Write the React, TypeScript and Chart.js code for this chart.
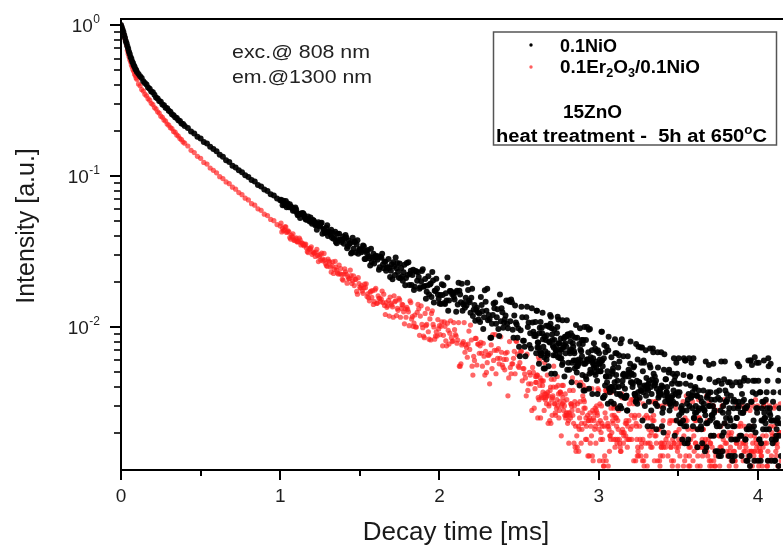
import React, { useEffect, useRef } from "react";
import { Chart, registerables } from "chart.js";

Chart.register(...registerables);

// ---------- time base (ms) ----------
const tStart = [0, 0.005, 0.01, 0.015, 0.02, 0.025, 0.03, 0.035, 0.04, 0.045, 0.05, 0.055, 0.06, 0.065, 0.07, 0.075, 0.08, 0.085, 0.09, 0.095, 0.1];
const tEarly = [
  0.11, 0.12, 0.13, 0.14, 0.15, 0.16, 0.17, 0.18, 0.19, 0.2, 0.21, 0.22, 0.23, 0.24, 0.25, 0.26, 0.27, 0.28, 0.29, 0.3,
  0.31, 0.32, 0.33, 0.34, 0.35, 0.36, 0.37, 0.38, 0.39, 0.4, 0.42, 0.44, 0.46, 0.48, 0.5, 0.52, 0.54, 0.56, 0.58, 0.6,
  0.62, 0.64, 0.66, 0.68, 0.7, 0.72, 0.74, 0.76, 0.78, 0.8, 0.82, 0.84, 0.86, 0.88, 0.9, 0.92, 0.94, 0.96, 0.98, 1.0,
];
const tMid = [
  1.01, 1.02, 1.03, 1.04, 1.05, 1.06, 1.07, 1.08, 1.09, 1.1, 1.11, 1.12, 1.13, 1.14, 1.15, 1.16, 1.17, 1.18, 1.19, 1.2,
  1.21, 1.22, 1.23, 1.24, 1.25, 1.26, 1.27, 1.28, 1.29, 1.3, 1.31, 1.32, 1.33, 1.34, 1.35, 1.36, 1.37, 1.38, 1.39, 1.4,
  1.41, 1.42, 1.43, 1.44, 1.45, 1.46, 1.47, 1.48, 1.49, 1.5, 1.51, 1.52, 1.53, 1.54, 1.55, 1.56, 1.57, 1.58, 1.59, 1.6,
  1.61, 1.62, 1.63, 1.64, 1.65, 1.66, 1.67, 1.68, 1.69, 1.7, 1.71, 1.72, 1.73, 1.74, 1.75, 1.76, 1.77, 1.78, 1.79, 1.8,
  1.81, 1.82, 1.83, 1.84, 1.85, 1.86, 1.87, 1.88, 1.89, 1.9, 1.91, 1.92, 1.93, 1.94, 1.95, 1.96, 1.97, 1.98, 1.99, 2.0,
];
const tMidB = [
  1.005, 1.015, 1.025, 1.035, 1.045, 1.055, 1.065, 1.075, 1.085, 1.095, 1.105, 1.115, 1.125, 1.135, 1.145, 1.155, 1.165, 1.175, 1.185, 1.195,
  1.205, 1.215, 1.225, 1.235, 1.245, 1.255, 1.265, 1.275, 1.285, 1.295, 1.305, 1.315, 1.325, 1.335, 1.345, 1.355, 1.365, 1.375, 1.385, 1.395,
  1.405, 1.415, 1.425, 1.435, 1.445, 1.455, 1.465, 1.475, 1.485, 1.495, 1.505, 1.515, 1.525, 1.535, 1.545, 1.555, 1.565, 1.575, 1.585, 1.595,
  1.605, 1.615, 1.625, 1.635, 1.645, 1.655, 1.665, 1.675, 1.685, 1.695, 1.705, 1.715, 1.725, 1.735, 1.745, 1.755, 1.765, 1.775, 1.785, 1.795,
  1.805, 1.815, 1.825, 1.835, 1.845, 1.855, 1.865, 1.875, 1.885, 1.895, 1.905, 1.915, 1.925, 1.935, 1.945, 1.955, 1.965, 1.975, 1.985, 1.995,
];
const tLate = [
  2.01, 2.02, 2.03, 2.04, 2.05, 2.06, 2.07, 2.08, 2.09, 2.1, 2.11, 2.12, 2.13, 2.14, 2.15, 2.16, 2.17, 2.18, 2.19, 2.2,
  2.21, 2.22, 2.23, 2.24, 2.25, 2.26, 2.27, 2.28, 2.29, 2.3, 2.31, 2.32, 2.33, 2.34, 2.35, 2.36, 2.37, 2.38, 2.39, 2.4,
  2.41, 2.42, 2.43, 2.44, 2.45, 2.46, 2.47, 2.48, 2.49, 2.5, 2.51, 2.52, 2.53, 2.54, 2.55, 2.56, 2.57, 2.58, 2.59, 2.6,
];
const tLateB = [
  2.005, 2.015, 2.025, 2.035, 2.045, 2.055, 2.065, 2.075, 2.085, 2.095, 2.105, 2.115, 2.125, 2.135, 2.145, 2.155, 2.165, 2.175, 2.185, 2.195,
  2.205, 2.215, 2.225, 2.235, 2.245, 2.255, 2.265, 2.275, 2.285, 2.295, 2.305, 2.315, 2.325, 2.335, 2.345, 2.355, 2.365, 2.375, 2.385, 2.395,
  2.405, 2.415, 2.425, 2.435, 2.445, 2.455, 2.465, 2.475, 2.485, 2.495, 2.505, 2.515, 2.525, 2.535, 2.545, 2.555, 2.565, 2.575, 2.585, 2.595,
];
const tTail = [
  2.605, 2.61, 2.615, 2.62, 2.625, 2.63, 2.635, 2.64, 2.645, 2.65, 2.655, 2.66, 2.665, 2.67, 2.675, 2.68, 2.685, 2.69, 2.695, 2.7,
  2.705, 2.71, 2.715, 2.72, 2.725, 2.73, 2.735, 2.74, 2.745, 2.75, 2.755, 2.76, 2.765, 2.77, 2.775, 2.78, 2.785, 2.79, 2.795, 2.8,
  2.805, 2.81, 2.815, 2.82, 2.825, 2.83, 2.835, 2.84, 2.845, 2.85, 2.855, 2.86, 2.865, 2.87, 2.875, 2.88, 2.885, 2.89, 2.895, 2.9,
  2.905, 2.91, 2.915, 2.92, 2.925, 2.93, 2.935, 2.94, 2.945, 2.95, 2.955, 2.96, 2.965, 2.97, 2.975, 2.98, 2.985, 2.99, 2.995, 3.0,
  3.005, 3.01, 3.015, 3.02, 3.025, 3.03, 3.035, 3.04, 3.045, 3.05, 3.055, 3.06, 3.065, 3.07, 3.075, 3.08, 3.085, 3.09, 3.095, 3.1,
  3.105, 3.11, 3.115, 3.12, 3.125, 3.13, 3.135, 3.14, 3.145, 3.15, 3.155, 3.16, 3.165, 3.17, 3.175, 3.18, 3.185, 3.19, 3.195, 3.2,
  3.205, 3.21, 3.215, 3.22, 3.225, 3.23, 3.235, 3.24, 3.245, 3.25, 3.255, 3.26, 3.265, 3.27, 3.275, 3.28, 3.285, 3.29, 3.295, 3.3,
  3.305, 3.31, 3.315, 3.32, 3.325, 3.33, 3.335, 3.34, 3.345, 3.35, 3.355, 3.36, 3.365, 3.37, 3.375, 3.38, 3.385, 3.39, 3.395, 3.4,
  3.405, 3.41, 3.415, 3.42, 3.425, 3.43, 3.435, 3.44, 3.445, 3.45, 3.455, 3.46, 3.465, 3.47, 3.475, 3.48, 3.485, 3.49, 3.495, 3.5,
  3.505, 3.51, 3.515, 3.52, 3.525, 3.53, 3.535, 3.54, 3.545, 3.55, 3.555, 3.56, 3.565, 3.57, 3.575, 3.58, 3.585, 3.59, 3.595, 3.6,
  3.605, 3.61, 3.615, 3.62, 3.625, 3.63, 3.635, 3.64, 3.645, 3.65, 3.655, 3.66, 3.665, 3.67, 3.675, 3.68, 3.685, 3.69, 3.695, 3.7,
  3.705, 3.71, 3.715, 3.72, 3.725, 3.73, 3.735, 3.74, 3.745, 3.75, 3.755, 3.76, 3.765, 3.77, 3.775, 3.78, 3.785, 3.79, 3.795, 3.8,
  3.805, 3.81, 3.815, 3.82, 3.825, 3.83, 3.835, 3.84, 3.845, 3.85, 3.855, 3.86, 3.865, 3.87, 3.875, 3.88, 3.885, 3.89, 3.895, 3.9,
  3.905, 3.91, 3.915, 3.92, 3.925, 3.93, 3.935, 3.94, 3.945, 3.95, 3.955, 3.96, 3.965, 3.97, 3.975, 3.98, 3.985, 3.99, 3.995, 4.0,
  4.005, 4.01, 4.015, 4.02, 4.025, 4.03, 4.035, 4.04, 4.045, 4.05, 4.055, 4.06, 4.065, 4.07, 4.075, 4.08, 4.085, 4.09, 4.095, 4.1,
  4.105, 4.11, 4.115, 4.12, 4.125, 4.13, 4.135, 4.14, 4.145,
];
const tTailB = [
  2.6025, 2.6075, 2.6125, 2.6175, 2.6225, 2.6275, 2.6325, 2.6375, 2.6425, 2.6475, 2.6525, 2.6575, 2.6625, 2.6675, 2.6725, 2.6775, 2.6825, 2.6875, 2.6925, 2.6975,
  2.7025, 2.7075, 2.7125, 2.7175, 2.7225, 2.7275, 2.7325, 2.7375, 2.7425, 2.7475, 2.7525, 2.7575, 2.7625, 2.7675, 2.7725, 2.7775, 2.7825, 2.7875, 2.7925, 2.7975,
  2.8025, 2.8075, 2.8125, 2.8175, 2.8225, 2.8275, 2.8325, 2.8375, 2.8425, 2.8475, 2.8525, 2.8575, 2.8625, 2.8675, 2.8725, 2.8775, 2.8825, 2.8875, 2.8925, 2.8975,
  2.9025, 2.9075, 2.9125, 2.9175, 2.9225, 2.9275, 2.9325, 2.9375, 2.9425, 2.9475, 2.9525, 2.9575, 2.9625, 2.9675, 2.9725, 2.9775, 2.9825, 2.9875, 2.9925, 2.9975,
  3.0025, 3.0075, 3.0125, 3.0175, 3.0225, 3.0275, 3.0325, 3.0375, 3.0425, 3.0475, 3.0525, 3.0575, 3.0625, 3.0675, 3.0725, 3.0775, 3.0825, 3.0875, 3.0925, 3.0975,
  3.1025, 3.1075, 3.1125, 3.1175, 3.1225, 3.1275, 3.1325, 3.1375, 3.1425, 3.1475, 3.1525, 3.1575, 3.1625, 3.1675, 3.1725, 3.1775, 3.1825, 3.1875, 3.1925, 3.1975,
  3.2025, 3.2075, 3.2125, 3.2175, 3.2225, 3.2275, 3.2325, 3.2375, 3.2425, 3.2475, 3.2525, 3.2575, 3.2625, 3.2675, 3.2725, 3.2775, 3.2825, 3.2875, 3.2925, 3.2975,
  3.3025, 3.3075, 3.3125, 3.3175, 3.3225, 3.3275, 3.3325, 3.3375, 3.3425, 3.3475, 3.3525, 3.3575, 3.3625, 3.3675, 3.3725, 3.3775, 3.3825, 3.3875, 3.3925, 3.3975,
  3.4025, 3.4075, 3.4125, 3.4175, 3.4225, 3.4275, 3.4325, 3.4375, 3.4425, 3.4475, 3.4525, 3.4575, 3.4625, 3.4675, 3.4725, 3.4775, 3.4825, 3.4875, 3.4925, 3.4975,
  3.5025, 3.5075, 3.5125, 3.5175, 3.5225, 3.5275, 3.5325, 3.5375, 3.5425, 3.5475, 3.5525, 3.5575, 3.5625, 3.5675, 3.5725, 3.5775, 3.5825, 3.5875, 3.5925, 3.5975,
  3.6025, 3.6075, 3.6125, 3.6175, 3.6225, 3.6275, 3.6325, 3.6375, 3.6425, 3.6475, 3.6525, 3.6575, 3.6625, 3.6675, 3.6725, 3.6775, 3.6825, 3.6875, 3.6925, 3.6975,
  3.7025, 3.7075, 3.7125, 3.7175, 3.7225, 3.7275, 3.7325, 3.7375, 3.7425, 3.7475, 3.7525, 3.7575, 3.7625, 3.7675, 3.7725, 3.7775, 3.7825, 3.7875, 3.7925, 3.7975,
  3.8025, 3.8075, 3.8125, 3.8175, 3.8225, 3.8275, 3.8325, 3.8375, 3.8425, 3.8475, 3.8525, 3.8575, 3.8625, 3.8675, 3.8725, 3.8775, 3.8825, 3.8875, 3.8925, 3.8975,
  3.9025, 3.9075, 3.9125, 3.9175, 3.9225, 3.9275, 3.9325, 3.9375, 3.9425, 3.9475, 3.9525, 3.9575, 3.9625, 3.9675, 3.9725, 3.9775, 3.9825, 3.9875, 3.9925, 3.9975,
  4.0025, 4.0075, 4.0125, 4.0175, 4.0225, 4.0275, 4.0325, 4.0375, 4.0425, 4.0475, 4.0525, 4.0575, 4.0625, 4.0675, 4.0725, 4.0775, 4.0825, 4.0875, 4.0925, 4.0975,
  4.1025, 4.1075, 4.1125, 4.1175, 4.1225, 4.1275, 4.1325, 4.1375, 4.1425,
];

// ---------- 0.1NiO (black) intensities ----------
const niStart = [1.0, 0.968, 0.931, 0.899, 0.858, 0.824, 0.783, 0.757, 0.722, 0.697, 0.665, 0.643, 0.615, 0.598, 0.573, 0.56, 0.541, 0.529, 0.511, 0.503, 0.488];
const niEarly = [
  0.473, 0.457, 0.445, 0.424, 0.413, 0.404, 0.386, 0.379, 0.363, 0.358, 0.345, 0.331, 0.326, 0.314, 0.31, 0.298, 0.294, 0.283, 0.281, 0.27,
  0.266, 0.256, 0.253, 0.245, 0.242, 0.234, 0.231, 0.223, 0.221, 0.214, 0.208, 0.197, 0.191, 0.182, 0.177, 0.168, 0.164, 0.156, 0.151, 0.146,
  0.138, 0.134, 0.127, 0.124, 0.117, 0.114, 0.109, 0.106, 0.101, 0.0985, 0.094, 0.0918, 0.0872, 0.0851, 0.0814, 0.0796, 0.0758, 0.0743, 0.0709, 0.0692,
];
const niMid = [
  0.0684, 0.0686, 0.0647, 0.0621, 0.0637, 0.0649, 0.0624, 0.0588, 0.0589, 0.0601,
  0.055, 0.056, 0.0564, 0.0568, 0.0551, 0.0516, 0.0514, 0.0515, 0.053, 0.0483,
  0.0508, 0.0472, 0.0441, 0.0494, 0.0471, 0.049, 0.0445, 0.042, 0.0454, 0.0401,
  0.0426, 0.0441, 0.0421, 0.0392, 0.0366, 0.0414, 0.0414, 0.0377, 0.0377, 0.0356,
  0.0406, 0.0332, 0.0374, 0.036, 0.0311, 0.033, 0.0366, 0.0352, 0.0306, 0.0328,
  0.0313, 0.0346, 0.0282, 0.0318, 0.0324, 0.0285, 0.033, 0.0288, 0.0263, 0.0296,
  0.0279, 0.0239, 0.0292, 0.0305, 0.0245, 0.027, 0.0247, 0.0282, 0.0214, 0.026,
  0.0268, 0.0221, 0.0245, 0.0231, 0.0263, 0.0246, 0.0202, 0.0258, 0.0211, 0.0221,
  0.019, 0.0236, 0.0221, 0.0176, 0.0235, 0.0202, 0.0214, 0.0183, 0.0235, 0.0185,
  0.0208, 0.0171, 0.0217, 0.0191, 0.0158, 0.0203, 0.0174, 0.0209, 0.0164, 0.0143,
];
const niMidB = [
  0.0697, 0.064, 0.0642, 0.0684, 0.0659, 0.0622, 0.063, 0.0612, 0.0608, 0.0618,
  0.0571, 0.0556, 0.0526, 0.0559, 0.0564, 0.0529, 0.0515, 0.0539, 0.0499, 0.0497,
  0.0511, 0.0496, 0.0478, 0.0481, 0.0464, 0.0484, 0.0414, 0.0443, 0.0425, 0.0472,
  0.0428, 0.0412, 0.039, 0.0384, 0.0427, 0.0358, 0.0377, 0.0378, 0.0366, 0.0397,
  0.0386, 0.0392, 0.0343, 0.0356, 0.0307, 0.039, 0.0367, 0.0311, 0.0376, 0.0324,
  0.0324, 0.032, 0.0342, 0.0282, 0.0307, 0.0293, 0.0255, 0.0268, 0.0305, 0.0287,
  0.0289, 0.0294, 0.0249, 0.0287, 0.0259, 0.0271, 0.0236, 0.025, 0.0246, 0.0236,
  0.0207, 0.0252, 0.0289, 0.0265, 0.0212, 0.021, 0.0216, 0.023, 0.0189, 0.0265,
  0.0268, 0.0225, 0.019, 0.0239, 0.0185, 0.0233, 0.023, 0.0179, 0.0201, 0.0241,
  0.0187, 0.0154, 0.0188, 0.0164, 0.0194, 0.0231, 0.0145, 0.0173, 0.018, 0.0154,
];
const niLate = [
  0.0142, 0.0163, 0.0144, 0.0167, 0.0213, 0.015, 0.0173, 0.0165, 0.0158, 0.0169,
  0.0174, 0.0196, 0.0164, 0.0193, 0.0141, 0.0134, 0.0139, 0.0176, 0.0146, 0.0156,
  0.0118, 0.014, 0.013, 0.0125, 0.0123, 0.0158, 0.0127, 0.0116, 0.0147, 0.0179,
  0.012, 0.0085, 0.0105, 0.0143, 0.0145, 0.0116, 0.0097, 0.0164, 0.0133, 0.0099,
  0.0112, 0.015, 0.0098, 0.0147, 0.0152, 0.0096, 0.0119, 0.0107, 0.0085, 0.0074,
  0.0095, 0.0116, 0.0081, 0.0064, 0.0136, 0.0107, 0.0091, 0.0133, 0.0093, 0.0089,
];
const niLateB = [
  0.0163, 0.0192, 0.0189, 0.0142, 0.015, 0.0128, 0.0173, 0.0171, 0.0167, 0.0152,
  0.0126, 0.0141, 0.0174, 0.0146, 0.0128, 0.0144, 0.0156, 0.0196, 0.015, 0.0124,
  0.0179, 0.013, 0.011, 0.0134, 0.0112, 0.0108, 0.014, 0.0097, 0.0175, 0.0128,
  0.0111, 0.0113, 0.0085, 0.012, 0.0133, 0.0105, 0.0131, 0.0087, 0.0109, 0.0125,
  0.0107, 0.0119, 0.0105, 0.015, 0.0109, 0.0146, 0.0085, 0.0139, 0.0104, 0.0098,
  0.0064, 0.0136, 0.0081, 0.0074, 0.0116, 0.01, 0.0076, 0.0072, 0.0107, 0.0087,
];
const niTail = [
  0.0087, 0.0128, 0.0073, 0.0079, 0.0057, 0.0099, 0.0108, 0.0067, 0.0091, 0.0083,
  0.0053, 0.0086, 0.0069, 0.0102, 0.0088, 0.0067, 0.0055, 0.01, 0.012, 0.0117,
  0.0098, 0.0082, 0.0065, 0.0096, 0.0049, 0.007, 0.0075, 0.01, 0.0063, 0.0078,
  0.0067, 0.0071, 0.0062, 0.0056, 0.0058, 0.0084, 0.0047, 0.0078, 0.0086, 0.0111,
  0.0089, 0.0058, 0.0052, 0.0067, 0.0091, 0.0043, 0.0087, 0.0074, 0.0069, 0.0053,
  0.006, 0.0055, 0.0085, 0.0057, 0.0061, 0.0041, 0.0071, 0.0069, 0.0064, 0.0077,
  0.0038, 0.01, 0.0057, 0.0082, 0.0061, 0.0059, 0.0068, 0.0039, 0.0097, 0.0063,
  0.006, 0.0036, 0.0062, 0.0078, 0.005, 0.0048, 0.0054, 0.0044, 0.007, 0.0051,
  0.0057, 0.0051, 0.0059, 0.0093, 0.0055, 0.0034, 0.0076, 0.0041, 0.0047, 0.0074,
  0.0051, 0.007, 0.0039, 0.0037, 0.004, 0.0063, 0.0049, 0.0053, 0.0031, 0.0043,
  0.0067, 0.0048, 0.0036, 0.0029, 0.004, 0.0059, 0.003, 0.0035, 0.0083, 0.0044,
  0.0064, 0.0048, 0.0039, 0.0034, 0.0035, 0.0028, 0.0049, 0.0047, 0.005, 0.008,
  0.0049, 0.0043, 0.0042, 0.0048, 0.0036, 0.0035, 0.0077, 0.0044, 0.0061, 0.0074,
  0.0043, 0.0041, 0.0073, 0.0038, 0.0024, 0.0037, 0.0058, 0.003, 0.007, 0.0046,
  0.0039, 0.0038, 0.0032, 0.0056, 0.0054, 0.0028, 0.0022, 0.0072, 0.0049, 0.0041,
  0.0042, 0.0044, 0.0039, 0.0068, 0.0034, 0.0035, 0.0037, 0.0036, 0.0041, 0.0027,
  0.0029, 0.0052, 0.0035, 0.0045, 0.0037, 0.004, 0.0034, 0.005, 0.0028, 0.0032,
  0.003, 0.0042, 0.0049, 0.0038, 0.0044, 0.0047, 0.0031, 0.0024, 0.0037, 0.0035,
  0.0026, 0.0042, 0.0023, 0.0027, 0.0018, 0.0024, 0.0062, 0.0017, 0.006, 0.0022,
  0.0031, 0.0033, 0.0036, 0.003, 0.0047, 0.0034, 0.0035, 0.0037, 0.0062, 0.0025,
  0.0027, 0.003, 0.0035, 0.0016, 0.0028, 0.0029, 0.0046, 0.0034, 0.0021, 0.0017,
  0.0029, 0.0031, 0.0028, 0.0026, 0.0023, 0.0034, 0.0035, 0.003, 0.0045, 0.0024,
  0.0019, 0.0026, 0.0025, 0.0057, 0.0027, 0.0033, 0.0015, 0.0037, 0.0023, 0.0034,
  0.0014, 0.0022, 0.0028, 0.0059, 0.0019, 0.0027, 0.002, 0.0023, 0.0038, 0.0025,
  0.0036, 0.0022, 0.0027, 0.0029, 0.0043, 0.0035, 0.0014, 0.0013, 0.0032, 0.0033,
  0.0014, 0.0032, 0.0025, 0.0018, 0.0029, 0.003, 0.0043, 0.0041, 0.0019, 0.0036,
  0.0027, 0.0044, 0.0046, 0.0018, 0.0029, 0.0021, 0.0013, 0.006, 0.0022, 0.0012,
  0.006, 0.0032, 0.0021, 0.0044, 0.0022, 0.0063, 0.002, 0.0029, 0.0027, 0.0013,
  0.0058, 0.0018, 0.0037, 0.0017, 0.0029, 0.0024, 0.0032, 0.0027, 0.0025, 0.0033,
  0.0037, 0.0044, 0.0062, 0.0021, 0.0029, 0.0057, 0.0013, 0.0024, 0.0032, 0.0011,
  0.0013, 0.0018, 0.0019, 0.0024, 0.0025, 0.0012, 0.0029, 0.0023, 0.0014,
];
const niTailB = [
  0.0108, 0.0067, 0.0128, 0.0079, 0.0073, 0.0091, 0.0069, 0.0065, 0.0099, 0.0124,
  0.0074, 0.0063, 0.0053, 0.0082, 0.0061, 0.0065, 0.0102, 0.008, 0.0079, 0.0105,
  0.0049, 0.0089, 0.0075, 0.0073, 0.0082, 0.0065, 0.007, 0.0091, 0.0117, 0.0112,
  0.0078, 0.0062, 0.0084, 0.0071, 0.0111, 0.0073, 0.0076, 0.0086, 0.0067, 0.0074,
  0.0052, 0.0089, 0.0087, 0.0069, 0.008, 0.0071, 0.0058, 0.0078, 0.006, 0.0067,
  0.0085, 0.0103, 0.005, 0.0055, 0.0057, 0.0077, 0.0098, 0.006, 0.0082, 0.0048,
  0.0082, 0.0057, 0.0038, 0.0047, 0.0045, 0.01, 0.0061, 0.0096, 0.0049, 0.0052,
  0.005, 0.007, 0.0058, 0.0056, 0.0054, 0.0072, 0.0059, 0.0069, 0.0036, 0.0057,
  0.0067, 0.0061, 0.0051, 0.0093, 0.006, 0.0034, 0.0062, 0.0035, 0.0068, 0.0047,
  0.0043, 0.0031, 0.0086, 0.0047, 0.0039, 0.0032, 0.004, 0.0051, 0.0038, 0.0057,
  0.0083, 0.004, 0.0067, 0.0044, 0.0054, 0.0065, 0.0036, 0.0078, 0.0029, 0.0041,
  0.0048, 0.0049, 0.0034, 0.0047, 0.0035, 0.0028, 0.0064, 0.0052, 0.005, 0.0057,
  0.0043, 0.0049, 0.004, 0.0054, 0.0055, 0.0036, 0.0032, 0.0033, 0.0031, 0.0037,
  0.0043, 0.0034, 0.0038, 0.0058, 0.0073, 0.0051, 0.006, 0.0041, 0.004, 0.0035,
  0.0041, 0.0022, 0.0042, 0.0044, 0.0072, 0.004, 0.0036, 0.0045, 0.0068, 0.0043,
  0.0047, 0.0031, 0.0021, 0.003, 0.0054, 0.0037, 0.0036, 0.0039, 0.0068, 0.0022,
  0.004, 0.002, 0.0066, 0.0032, 0.0045, 0.0037, 0.0035, 0.0033, 0.0052, 0.0031,
  0.0033, 0.0034, 0.0035, 0.0032, 0.0062, 0.0019, 0.0036, 0.0058, 0.0049, 0.0042,
  0.0062, 0.0037, 0.0023, 0.0029, 0.003, 0.0028, 0.0048, 0.0022, 0.006, 0.0042,
  0.0028, 0.0017, 0.0018, 0.0062, 0.0047, 0.0041, 0.0058, 0.0029, 0.0022, 0.0025,
  0.0039, 0.004, 0.0027, 0.0035, 0.0021, 0.0038, 0.0046, 0.0024, 0.0022, 0.0032,
  0.0029, 0.0038, 0.0028, 0.0015, 0.0059, 0.0016, 0.0023, 0.0037, 0.0056, 0.003,
  0.0037, 0.0033, 0.0026, 0.003, 0.0019, 0.0028, 0.0043, 0.0023, 0.0022, 0.0015,
  0.0044, 0.0038, 0.0033, 0.0014, 0.0042, 0.0015, 0.003, 0.0045, 0.0059, 0.0032,
  0.0032, 0.0033, 0.0043, 0.0014, 0.0025, 0.0024, 0.0018, 0.0041, 0.0022, 0.0029,
  0.0022, 0.0018, 0.0043, 0.0025, 0.0057, 0.0032, 0.0055, 0.0019, 0.0027, 0.0014,
  0.0032, 0.0027, 0.0033, 0.0029, 0.0018, 0.0013, 0.003, 0.0044, 0.0021, 0.0014,
  0.006, 0.0032, 0.0056, 0.0037, 0.0024, 0.0013, 0.0044, 0.0036, 0.0058, 0.0029,
  0.0044, 0.0018, 0.0037, 0.0013, 0.0024, 0.0032, 0.0021, 0.006, 0.0025, 0.0023,
  0.0021, 0.0029, 0.0013, 0.0055, 0.0027, 0.0026, 0.0024, 0.0018, 0.0017, 0.0037,
  0.0024, 0.0013, 0.0018, 0.0021, 0.0023, 0.0044, 0.0019, 0.0052, 0.0037,
];

// ---------- 0.1Er2O3/0.1NiO (red) intensities ----------
const erStart = [1.0, 0.963, 0.932, 0.89, 0.859, 0.812, 0.778, 0.737, 0.679, 0.644, 0.619, 0.59, 0.571, 0.545, 0.529, 0.507, 0.494, 0.474, 0.463, 0.446, 0.437];
const erEarly = [
  0.407, 0.396, 0.374, 0.365, 0.348, 0.34, 0.325, 0.318, 0.303, 0.297, 0.284, 0.278, 0.266, 0.261, 0.249, 0.245, 0.235, 0.231, 0.221, 0.217,
  0.209, 0.206, 0.197, 0.195, 0.187, 0.184, 0.177, 0.174, 0.168, 0.165, 0.158, 0.148, 0.143, 0.135, 0.131, 0.123, 0.12, 0.113, 0.109, 0.105,
  0.099, 0.0962, 0.0914, 0.0889, 0.0843, 0.0818, 0.0776, 0.0752, 0.0713, 0.0694, 0.0656, 0.0641, 0.0606, 0.0592, 0.0559, 0.0547, 0.0516, 0.0506, 0.0477, 0.0466,
];
const erMid = [
  0.0426, 0.0434, 0.0461, 0.0423, 0.0434, 0.0391, 0.0405, 0.0414, 0.0374, 0.0389,
  0.0366, 0.0388, 0.0349, 0.0359, 0.0345, 0.0354, 0.0316, 0.0332, 0.0332, 0.0303,
  0.031, 0.0293, 0.0327, 0.0271, 0.0302, 0.0308, 0.0274, 0.0278, 0.0255, 0.0282,
  0.0269, 0.0231, 0.027, 0.0241, 0.0249, 0.0228, 0.0257, 0.0244, 0.0207, 0.0224,
  0.0232, 0.0195, 0.0209, 0.0238, 0.0194, 0.0218, 0.0206, 0.0172, 0.0212, 0.0183,
  0.0188, 0.0167, 0.0192, 0.0193, 0.0166, 0.0149, 0.0173, 0.0174, 0.0147, 0.018,
  0.0144, 0.0155, 0.0147, 0.0173, 0.0165, 0.0121, 0.0135, 0.015, 0.0158, 0.014,
  0.0116, 0.0147, 0.0119, 0.0129, 0.0151, 0.0133, 0.014, 0.0105, 0.0116, 0.0131,
  0.0102, 0.0145, 0.0117, 0.0106, 0.01, 0.0125, 0.0132, 0.0118, 0.0104, 0.0087,
  0.0123, 0.0104, 0.0093, 0.0113, 0.0123, 0.0104, 0.0083, 0.0093, 0.0112, 0.0102,
];
const erMidB = [
  0.0487, 0.045, 0.044, 0.046, 0.0428, 0.0425, 0.0382, 0.0395, 0.0377, 0.0383,
  0.0367, 0.0368, 0.0377, 0.036, 0.0351, 0.0351, 0.0333, 0.0311, 0.0326, 0.034,
  0.0315, 0.0309, 0.0313, 0.0298, 0.0293, 0.0277, 0.0283, 0.0307, 0.0263, 0.0252,
  0.0273, 0.025, 0.0255, 0.0226, 0.0272, 0.0238, 0.0224, 0.0226, 0.0222, 0.0204,
  0.0243, 0.0224, 0.0215, 0.0209, 0.0219, 0.0202, 0.0188, 0.0207, 0.0165, 0.0194,
  0.0181, 0.0173, 0.0181, 0.0182, 0.0159, 0.0156, 0.017, 0.0157, 0.0141, 0.0176,
  0.0143, 0.0161, 0.0155, 0.0153, 0.0145, 0.0139, 0.0145, 0.0138, 0.0118, 0.0144,
  0.0136, 0.0161, 0.0149, 0.0133, 0.0155, 0.0116, 0.0141, 0.0126, 0.0132, 0.0135,
  0.0126, 0.0149, 0.0113, 0.0101, 0.012, 0.01, 0.0141, 0.0088, 0.0138, 0.0099,
  0.0085, 0.0102, 0.0132, 0.0083, 0.0082, 0.0128, 0.01, 0.0087, 0.0087, 0.0097,
];
const erLate = [
  0.0101, 0.0075, 0.0108, 0.0081, 0.0106, 0.0077, 0.011, 0.008, 0.0107, 0.0089,
  0.0078, 0.0107, 0.0055, 0.0076, 0.008, 0.0068, 0.0073, 0.0077, 0.0071, 0.0082,
  0.0048, 0.006, 0.0084, 0.0077, 0.0067, 0.0079, 0.0055, 0.0064, 0.0069, 0.0058,
  0.0065, 0.0067, 0.0053, 0.006, 0.0089, 0.007, 0.0072, 0.0062, 0.0068, 0.0054,
  0.0052, 0.0061, 0.0035, 0.008, 0.0049, 0.0057, 0.0069, 0.0081, 0.0066, 0.0054,
  0.0069, 0.0044, 0.0053, 0.0046, 0.0066, 0.0042, 0.0048, 0.0028, 0.005, 0.0039,
];
const erLateB = [
  0.0089, 0.0108, 0.0088, 0.0101, 0.0075, 0.0095, 0.0091, 0.0085, 0.0081, 0.0096,
  0.0087, 0.0082, 0.0055, 0.0057, 0.0078, 0.0107, 0.0076, 0.0063, 0.0094, 0.0103,
  0.0055, 0.0064, 0.0084, 0.0056, 0.0077, 0.0075, 0.0067, 0.0078, 0.0048, 0.005,
  0.0065, 0.0042, 0.0076, 0.0089, 0.007, 0.0049, 0.0062, 0.0057, 0.0086, 0.0056,
  0.0061, 0.0067, 0.0068, 0.0046, 0.0054, 0.0057, 0.0062, 0.0049, 0.008, 0.0055,
  0.0058, 0.0069, 0.0053, 0.0049, 0.0035, 0.0038, 0.005, 0.0042, 0.0054, 0.0029,
];
const erTail = [
  0.0043, 0.0047, 0.0048, 0.0034, 0.0033, 0.0041, 0.0025, 0.0035, 0.0044, 0.0037,
  0.0034, 0.0058, 0.0033, 0.0036, 0.0035, 0.0037, 0.0035, 0.0031, 0.0038, 0.0023,
  0.0033, 0.0034, 0.004, 0.0045, 0.0031, 0.0026, 0.0029, 0.0047, 0.0041, 0.0025,
  0.0032, 0.0037, 0.0019, 0.0041, 0.0034, 0.0028, 0.003, 0.0036, 0.0026, 0.0033,
  0.0023, 0.0024, 0.0027, 0.0026, 0.0031, 0.003, 0.0046, 0.0038, 0.0017, 0.0032,
  0.0022, 0.0043, 0.0016, 0.0028, 0.0015, 0.0025, 0.0041, 0.0017, 0.0021, 0.0035,
  0.0033, 0.0032, 0.0029, 0.0025, 0.0018, 0.0026, 0.0024, 0.0014, 0.0027, 0.0022,
  0.0019, 0.0014, 0.0013, 0.0024, 0.0021, 0.0022, 0.0028, 0.0027, 0.0039, 0.0038,
  0.0013, 0.0024, 0.002, 0.0023, 0.0018, 0.0012, 0.0022, 0.0027, 0.0025, 0.0038,
  0.0022, 0.0012, 0.0021, 0.0019, 0.0018, 0.0037, 0.0026, 0.0023, 0.0029, 0.003,
  0.0018, 0.0025, 0.0017, 0.0024, 0.0028, 0.0018, 0.0016, 0.0015, 0.0036, 0.0021,
  0.0017, 0.002, 0.0034, 0.0019, 0.0023, 0.0016, 0.0011, 0.0024, 0.0018, 0.0021,
  0.0026, 0.0022, 0.0033, 0.0013, 0.0025, 0.001, 0.0023, 0.0018, 0.0016, 0.0014,
  0.0033, 0.0018, 0.0014, 0.0017, 0.0013, 0.0031, 0.0012, 0.00098, 0.001, 0.0026,
  0.0012, 0.0017, 0.0021, 0.0019, 0.0025, 0.002, 0.0016, 0.0024, 0.0026, 0.0013,
  0.0032, 0.0019, 0.0009, 0.0013, 0.00092, 0.0021, 0.0012, 0.0017, 0.0016, 0.003,
  0.0024, 0.00083, 0.0011, 0.0016, 0.0031, 0.00085, 0.0014, 0.0017, 0.0023, 0.0011,
  0.0016, 0.0024, 0.0018, 0.0013, 0.0017, 0.0031, 0.0029, 0.002, 0.0015, 0.0016,
  0.0021, 0.0014, 0.0011, 0.0017, 0.0018, 0.0032, 0.0019, 0.0013, 0.0024, 0.0035,
  0.0024, 0.0021, 0.0012, 0.0014, 0.0016, 0.0011, 0.00081, 0.0032, 0.001, 0.0015,
  0.0024, 0.0017, 0.0021, 0.0012, 0.0016, 0.0025, 0.0011, 0.001, 0.0016, 0.0018,
  0.0021, 0.0017, 0.00081, 0.0018, 0.0016, 0.0015, 0.0014, 0.0036, 0.0013, 0.0017,
  0.0013, 0.0012, 0.001, 0.003, 0.0019, 0.0015, 0.0014, 0.00076, 0.00079, 0.0011,
  0.0019, 0.0012, 0.0015, 0.0016, 0.003, 0.00076, 0.0011, 0.0033, 0.0017, 0.0008,
  0.0015, 0.0014, 0.001, 0.0012, 0.00076, 0.0019, 0.002, 0.0013, 0.0011, 0.0022,
  0.0013, 0.001, 0.0017, 0.003, 0.0018, 0.0019, 0.0016, 0.0022, 0.0014, 0.0017,
  0.001, 0.0017, 0.0022, 0.0015, 0.0016, 0.0011, 0.0013, 0.003, 0.00076, 0.0028,
  0.0019, 0.0015, 0.0012, 0.003, 0.0014, 0.0015, 0.0033, 0.0017, 0.0013, 0.001,
  0.0012, 0.0013, 0.0015, 0.0014, 0.00076, 0.0019, 0.003, 0.0011, 0.0017, 0.0032,
  0.0017, 0.0012, 0.0013, 0.0011, 0.001, 0.0022, 0.0014, 0.0019, 0.00076, 0.0029,
  0.0019, 0.003, 0.0008, 0.0017, 0.0012, 0.001, 0.002, 0.0031, 0.0013,
];
const erTailB = [
  0.0047, 0.0043, 0.0048, 0.0025, 0.0063, 0.006, 0.0046, 0.0044, 0.0034, 0.0041,
  0.0044, 0.0028, 0.0036, 0.0034, 0.0031, 0.0048, 0.0023, 0.003, 0.0024, 0.004,
  0.0045, 0.0026, 0.0035, 0.0055, 0.0031, 0.0027, 0.004, 0.0033, 0.003, 0.0036,
  0.0028, 0.0037, 0.0036, 0.003, 0.0031, 0.0041, 0.0032, 0.0026, 0.0025, 0.0027,
  0.0026, 0.0027, 0.0017, 0.0038, 0.0025, 0.0031, 0.0028, 0.0026, 0.0023, 0.003,
  0.0016, 0.0015, 0.0019, 0.0031, 0.0022, 0.0021, 0.0032, 0.0043, 0.0023, 0.0027,
  0.0041, 0.0029, 0.0023, 0.0018, 0.0022, 0.0039, 0.0014, 0.0024, 0.0025, 0.0017,
  0.0024, 0.0039, 0.0028, 0.0025, 0.0027, 0.0029, 0.0017, 0.003, 0.0026, 0.0023,
  0.0021, 0.0031, 0.0018, 0.003, 0.0022, 0.0013, 0.0012, 0.0014, 0.0038, 0.0013,
  0.0037, 0.0023, 0.0022, 0.0015, 0.0019, 0.0029, 0.002, 0.0024, 0.0018, 0.0026,
  0.0016, 0.0025, 0.0022, 0.0018, 0.0021, 0.0011, 0.0017, 0.0015, 0.002, 0.0034,
  0.002, 0.0019, 0.0034, 0.0023, 0.0024, 0.0018, 0.0022, 0.0018, 0.0031, 0.0011,
  0.0033, 0.0018, 0.001, 0.0031, 0.00095, 0.0026, 0.0013, 0.0022, 0.0014, 0.0015,
  0.0026, 0.0022, 0.00098, 0.0016, 0.001, 0.0018, 0.0013, 0.0025, 0.0017, 0.0014,
  0.0009, 0.0025, 0.00092, 0.00088, 0.0017, 0.0016, 0.0032, 0.00095, 0.0021, 0.0024,
  0.0019, 0.0032, 0.0017, 0.0009, 0.0021, 0.003, 0.0013, 0.0014, 0.0016, 0.0017,
  0.0014, 0.0016, 0.0017, 0.00083, 0.0018, 0.0011, 0.0019, 0.002, 0.00085, 0.0024,
  0.0016, 0.0013, 0.0012, 0.0011, 0.0017, 0.0024, 0.002, 0.0016, 0.001, 0.0012,
  0.0018, 0.0017, 0.00081, 0.0011, 0.0024, 0.00085, 0.0012, 0.00083, 0.0025, 0.0014,
  0.00081, 0.00083, 0.0017, 0.0016, 0.0012, 0.0018, 0.0035, 0.0021, 0.0013, 0.0019,
  0.00081, 0.0017, 0.0024, 0.0016, 0.0014, 0.0033, 0.0025, 0.0012, 0.0011, 0.0016,
  0.0014, 0.0021, 0.0011, 0.0017, 0.0016, 0.0035, 0.0024, 0.0018, 0.0032, 0.0012,
  0.0017, 0.0019, 0.0016, 0.003, 0.0013, 0.0012, 0.0012, 0.0011, 0.0028, 0.00076,
  0.0015, 0.0019, 0.0016, 0.0022, 0.0015, 0.003, 0.0018, 0.001, 0.0023, 0.00078,
  0.0017, 0.001, 0.0019, 0.002, 0.0015, 0.0016, 0.0013, 0.00076, 0.0018, 0.0015,
  0.0015, 0.0013, 0.0012, 0.0017, 0.001, 0.0022, 0.00076, 0.0011, 0.0023, 0.0019,
  0.003, 0.0013, 0.0015, 0.0028, 0.0017, 0.0019, 0.00076, 0.0014, 0.001, 0.0015,
  0.0012, 0.0015, 0.0022, 0.0017, 0.0015, 0.0019, 0.0013, 0.0018, 0.0016, 0.003,
  0.0015, 0.0016, 0.0017, 0.0015, 0.0014, 0.0012, 0.0016, 0.003, 0.0011, 0.001,
  0.0019, 0.0012, 0.0015, 0.00076, 0.003, 0.0013, 0.001, 0.002, 0.0011, 0.0008,
  0.0022, 0.0017, 0.0015, 0.0014, 0.0016, 0.0019, 0.0012, 0.002, 0.00076,
];

// ---------- axes ----------
const xMin = 0;
const xMax = 4.145;
const yMin = 0.001112;
const yMax = 1.096;
const xMajorTicks = [0, 1, 2, 3, 4];
const xTickLabels = ["0", "1", "2", "3", "4"];
const xMinorTicks = [0.5, 1.5, 2.5, 3.5];
const yMajorTicks = [1, 0.1, 0.01];
const yTickExponents = ["0", "-1", "-2"];
const yMinorTicks = [
  0.9, 0.8, 0.7, 0.6, 0.5, 0.4, 0.3, 0.2,
  0.09, 0.08, 0.07, 0.06, 0.05, 0.04, 0.03, 0.02,
  0.009, 0.008, 0.007, 0.006, 0.005, 0.004, 0.003, 0.002,
];
const xTitle = "Decay time [ms]";
const yTitle = "Intensity [a.u.]";
const seriesNames = ["0.1NiO", "0.1Er2O3/0.1NiO"];

const FAM = '"Liberation Sans", Arial, Helvetica, sans-serif';

function zip(ts: number[], vs: number[]) {
  const n = Math.min(ts.length, vs.length);
  const out: { x: number; y: number }[] = [];
  for (let i = 0; i < n; i++) out.push({ x: ts[i], y: vs[i] });
  return out;
}

type Run = { t: string; k?: "sub" | "sup" };

function drawRich(
  ctx: CanvasRenderingContext2D,
  runs: Run[],
  x: number,
  y: number,
  size: number,
  weight: string,
  color: string,
  targetW?: number
) {
  const fontFor = (k?: string) => `${weight} ${k ? Math.round(size * 0.66) : size}px ${FAM}`;
  let w = 0;
  for (const r of runs) {
    ctx.font = fontFor(r.k);
    w += ctx.measureText(r.t).width;
  }
  const sx = targetW ? targetW / w : 1;
  ctx.save();
  ctx.translate(x, y);
  ctx.scale(sx, 1);
  ctx.fillStyle = color;
  ctx.textAlign = "left";
  ctx.textBaseline = "alphabetic";
  let cx = 0;
  for (const r of runs) {
    ctx.font = fontFor(r.k);
    const dy = r.k === "sub" ? size * 0.24 : r.k === "sup" ? -size * 0.42 : 0;
    ctx.fillText(r.t, cx, dy);
    cx += ctx.measureText(r.t).width;
  }
  ctx.restore();
}

const decorPlugin = {
  id: "decor",
  afterDraw(chart: any) {
    const ctx: CanvasRenderingContext2D = chart.ctx;
    const { left, top, right, bottom } = chart.chartArea;
    const xs = chart.scales.x;
    const ys = chart.scales.y;
    ctx.save();
    ctx.strokeStyle = "#000";
    ctx.lineCap = "butt";

    // frame: top, left, bottom
    ctx.lineWidth = 2;
    ctx.beginPath();
    ctx.moveTo(right + 2, top);
    ctx.lineTo(left, top);
    ctx.lineTo(left, bottom - 1);
    ctx.lineTo(right + 2, bottom - 1);
    ctx.stroke();

    // y ticks
    for (const v of yMajorTicks) {
      const py = Math.round(ys.getPixelForValue(v));
      ctx.lineWidth = 2;
      ctx.beginPath();
      ctx.moveTo(left, py);
      ctx.lineTo(left - 11, py);
      ctx.stroke();
    }
    for (const v of yMinorTicks) {
      const py = Math.round(ys.getPixelForValue(v));
      ctx.lineWidth = 1.6;
      ctx.beginPath();
      ctx.moveTo(left, py);
      ctx.lineTo(left - 7, py);
      ctx.stroke();
    }
    // x ticks
    for (const v of xMajorTicks) {
      const px = Math.round(xs.getPixelForValue(v));
      ctx.lineWidth = 2;
      ctx.beginPath();
      ctx.moveTo(px, bottom - 1);
      ctx.lineTo(px, bottom + 9);
      ctx.stroke();
    }
    for (const v of xMinorTicks) {
      const px = Math.round(xs.getPixelForValue(v));
      ctx.lineWidth = 2;
      ctx.beginPath();
      ctx.moveTo(px, bottom - 1);
      ctx.lineTo(px, bottom + 5);
      ctx.stroke();
    }

    // x tick labels
    ctx.fillStyle = "#1e1e1e";
    ctx.font = `19px ${FAM}`;
    ctx.textAlign = "center";
    ctx.textBaseline = "alphabetic";
    xMajorTicks.forEach((v, i) => {
      ctx.fillText(xTickLabels[i], xs.getPixelForValue(v), bottom + 31);
    });

    // y tick labels: 10^n
    yMajorTicks.forEach((v, i) => {
      const py = ys.getPixelForValue(v);
      const rightEdge = 100;
      ctx.font = `12px ${FAM}`;
      const ew = ctx.measureText(yTickExponents[i]).width;
      ctx.font = `19px ${FAM}`;
      const bw = ctx.measureText("10").width;
      ctx.textAlign = "left";
      ctx.fillText("10", rightEdge - ew - bw - 0.5, py + 7);
      ctx.font = `12px ${FAM}`;
      ctx.fillText(yTickExponents[i], rightEdge - ew, py - 2);
    });

    // axis titles
    ctx.fillStyle = "#1a1a1a";
    ctx.font = `26px ${FAM}`;
    ctx.textAlign = "center";
    ctx.fillText(xTitle, 456, 540);
    ctx.save();
    ctx.translate(33.5, 226);
    ctx.rotate(-Math.PI / 2);
    ctx.font = `25px ${FAM}`;
    ctx.textAlign = "center";
    ctx.fillText(yTitle, 0, 0);
    ctx.restore();

    // annotation
    drawRich(ctx, [{ t: "exc.@ 808 nm" }], 232, 58, 19, "normal", "#222", 138);
    drawRich(ctx, [{ t: "em.@1300 nm" }], 232, 83, 19, "normal", "#222", 140);

    // legend box
    ctx.strokeStyle = "#555";
    ctx.lineWidth = 1.5;
    ctx.strokeRect(493.5, 32, 283, 113);
    ctx.fillStyle = "#000";
    ctx.beginPath();
    ctx.arc(531, 45, 1.7, 0, Math.PI * 2);
    ctx.fill();
    ctx.fillStyle = "rgba(255,40,40,0.75)";
    ctx.beginPath();
    ctx.arc(531, 67, 1.7, 0, Math.PI * 2);
    ctx.fill();
    drawRich(ctx, [{ t: seriesNames[0] }], 560, 52, 18, "bold", "#000", 57);
    drawRich(
      ctx,
      [{ t: "0.1Er" }, { t: "2", k: "sub" }, { t: "O" }, { t: "3", k: "sub" }, { t: "/0.1NiO" }],
      560,
      73,
      18,
      "bold",
      "#000",
      140
    );
    drawRich(ctx, [{ t: "15ZnO" }], 563, 118, 18, "bold", "#000", 59);
    drawRich(
      ctx,
      [{ t: "heat treatment -  5h at 650" }, { t: "o", k: "sup" }, { t: "C" }],
      496,
      141.5,
      18,
      "bold",
      "#000",
      271
    );
    ctx.restore();
  },
};

export default function App() {
  const ref = useRef<HTMLCanvasElement | null>(null);
  useEffect(() => {
    document.body.style.margin = "0";
    const canvas = ref.current;
    if (!canvas) return;
    const ni = [
      ...zip(tStart, niStart), ...zip(tEarly, niEarly), ...zip(tMid, niMid), ...zip(tMidB, niMidB),
      ...zip(tLate, niLate), ...zip(tLateB, niLateB), ...zip(tTail, niTail), ...zip(tTailB, niTailB),
    ];
    const er = [
      ...zip(tStart, erStart), ...zip(tEarly, erEarly), ...zip(tMid, erMid), ...zip(tMidB, erMidB),
      ...zip(tLate, erLate), ...zip(tLateB, erLateB), ...zip(tTail, erTail), ...zip(tTailB, erTailB),
    ];
    const chart = new Chart(canvas, {
      type: "scatter",
      data: {
        datasets: [
          {
            label: seriesNames[0],
            data: ni,
            backgroundColor: "rgba(0,0,0,0.92)",
            borderWidth: 0,
            pointRadius: 3,
            pointHoverRadius: 3,
          },
          {
            label: seriesNames[1],
            data: er,
            backgroundColor: "rgba(255,30,30,0.68)",
            borderWidth: 0,
            pointRadius: 2.6,
            pointHoverRadius: 2.6,
          },
        ],
      },
      options: {
        responsive: false,
        maintainAspectRatio: false,
        devicePixelRatio: 1,
        animation: false,
        events: [],
        layout: { padding: { left: 121, top: 19, right: 0, bottom: 76 } },
        plugins: { legend: { display: false }, tooltip: { enabled: false }, title: { display: false } },
        scales: {
          x: { type: "linear", min: xMin, max: xMax, display: false },
          y: { type: "logarithmic", min: yMin, max: yMax, display: false },
        },
      },
      plugins: [decorPlugin],
    } as any);
    return () => chart.destroy();
  }, []);
  return (
    <div style={{ position: "absolute", left: 0, top: 0, width: 784, height: 547, background: "#fff" }}>
      <canvas ref={ref} width={784} height={547} style={{ display: "block" }} />
    </div>
  );
}
